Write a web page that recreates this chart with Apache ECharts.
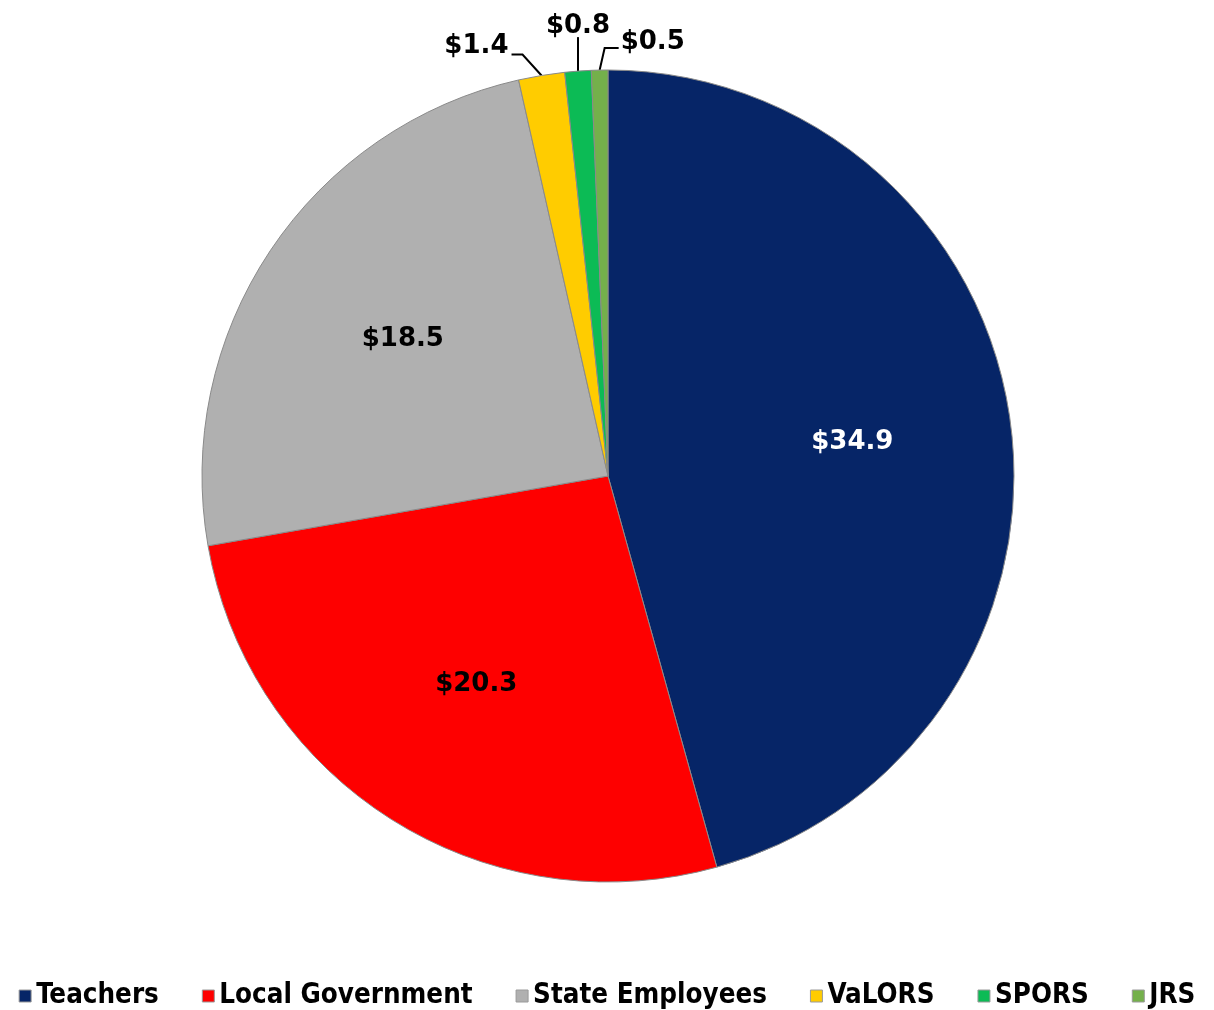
<!DOCTYPE html>
<html>
<head>
<meta charset="utf-8">
<script src="https://cdn.jsdelivr.net/npm/echarts@6/dist/echarts.min.js"></script>
<style>html,body{margin:0;padding:0;background:#fff;}#c{width:1214px;height:1010px;}</style>
</head>
<body>
<div id="c"></div>
<script>
const categories = ['Teachers', 'Local Government', 'State Employees', 'VaLORS', 'SPORS', 'JRS'];
const values = [34.9, 20.3, 18.5, 1.4, 0.8, 0.5];
const colors = ['#062567', '#fe0000', '#b0b0b0', '#ffcc00', '#0cbb55', '#74b04b'];
const labelColors = ['#ffffff', '#000000', '#000000', '#000000', '#000000', '#000000'];
const insideLabel = [true, true, true, false, false, false];

const R = 406;
const center = [608, 476];
const fmt = v => '$' + v.toFixed(1);

const chart = echarts.init(document.getElementById('c'), null, {renderer: 'canvas'});

const mainData = categories.map((name, i) => ({
  name, value: values[i],
  itemStyle: {color: colors[i]},
  label: {show: !insideLabel[i]},
  labelLine: {show: !insideLabel[i]}
}));
const labelData = categories.map((name, i) => ({
  name, value: values[i],
  itemStyle: {color: 'rgba(0,0,0,0)', borderWidth: 0},
  label: {show: insideLabel[i], color: labelColors[i]}
}));

chart.setOption({
  backgroundColor: '#ffffff',
  animation: false,
  legend: {
    data: categories,
    left: 'center',
    top: 977,
    icon: 'rect',
    itemWidth: 12,
    itemHeight: 12,
    itemGap: 43,
    textStyle: {fontFamily: 'DejaVu Sans Condensed', fontWeight: 'bold', fontSize: 27.5, color: '#000'},
    itemStyle: {borderColor: '#9a9a9a', borderWidth: 1},
    selectedMode: false
  },
  series: [
    {
      type: 'pie',
      center: center,
      radius: [0, R],
      startAngle: 90,
      clockwise: true,
      avoidLabelOverlap: false,
      silent: true,
      itemStyle: {borderColor: '#8a8a8a', borderWidth: 1},
      label: {
        position: 'outside',
        formatter: p => fmt(p.value),
        fontFamily: 'DejaVu Sans', fontWeight: 'bold', fontSize: 26, color: '#000'
      },
      labelLine: {length: 28, length2: 12, lineStyle: {color: '#000', width: 2}},
      labelLayout: function (params) {
        const i = params.dataIndex;
        const p = params.labelLinePoints;
        if (!p) return {};
        const p0 = p[0];
        if (i === 3) {
          const p1 = [p0[0] - 19, p0[1] - 21];
          const p2 = [p1[0] - 11, p1[1]];
          return {x: p2[0] - 3, y: p2[1] - 8, align: 'right', verticalAlign: 'middle', labelLinePoints: [p0, p1, p2]};
        }
        if (i === 4) {
          const p1 = [p0[0], p0[1] - 34];
          return {x: p1[0], y: p1[1] + 2, align: 'center', verticalAlign: 'bottom', labelLinePoints: [p0, p1, p1]};
        }
        if (i === 5) {
          const p1 = [p0[0] + 5, p0[1] - 22];
          const p2 = [p1[0] + 14, p1[1]];
          return {x: p2[0] + 2, y: p2[1] - 6, align: 'left', verticalAlign: 'middle', labelLinePoints: [p0, p1, p2]};
        }
        return {};
      },
      data: mainData
    },
    {
      type: 'pie',
      center: center,
      radius: [0, R * 1.2],
      startAngle: 90,
      clockwise: true,
      silent: true,
      avoidLabelOverlap: false,
      label: {
        position: 'inside',
        formatter: p => fmt(p.value),
        fontFamily: 'DejaVu Sans', fontWeight: 'bold', fontSize: 26
      },
      labelLine: {show: false},
      emphasis: {disabled: true},
      data: labelData
    }
  ]
});
</script>
</body>
</html>
